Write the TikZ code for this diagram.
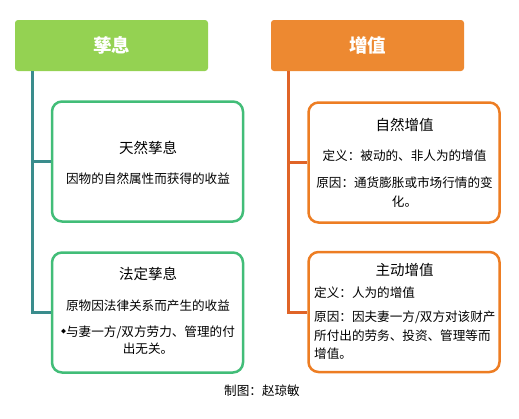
\documentclass[tikz,border=0pt]{standalone}
\usepackage{fontspec}
\setmainfont{Noto Sans CJK SC}
\definecolor{hdrgreen}{RGB}{148,210,82}
\definecolor{hdrorange}{RGB}{237,137,49}
\definecolor{boxgreen}{RGB}{66,189,120}
\definecolor{boxorange}{RGB}{237,125,35}
\definecolor{trunkteal}{RGB}{58,140,140}
\definecolor{trunkorange}{RGB}{224,100,40}
\tikzset{
  hdr/.style={rectangle, rounded corners=3pt, minimum width=193pt, minimum height=51pt, inner sep=0pt, text=white, font=\fontsize{18.5}{20}\selectfont\bfseries},
  card/.style={rectangle, rounded corners=10pt, line width=2.5pt, fill=white, minimum width=191pt, minimum height=120pt, inner sep=0pt},
  ttl/.style={inner sep=0pt, font=\fontsize{14.5}{16}\selectfont},
  body/.style={inner sep=0pt, font=\fontsize{12.6}{14}\selectfont},
  trunk/.style={line width=3pt},
}
\begin{document}
\begin{tikzpicture}[x=1pt,y=-1pt]
\useasboundingbox (0,0) rectangle (519,418);
% headers
\node[hdr, fill=hdrgreen] (h1) at (111.5,45.5) {孳息};
\node[hdr, fill=hdrorange] (h2) at (367.5,45.5) {增值};
% cards
\node[card, draw=boxgreen] (b1) at (147.5,161.5) {};
\node[card, draw=boxgreen] (b2) at (147.5,312.5) {};
\node[card, draw=boxorange] (b3) at (404,162.5) {};
\node[card, draw=boxorange] (b4) at (404,312) {};
% connectors
\coordinate (t1) at ([xshift=18pt]h1.south west);
\coordinate (t2) at ([xshift=18pt]h2.south west);
\draw[trunk, trunkteal] (t1) |- (b2.west);
\draw[trunk, trunkteal] (t1 |- b1.west) -- (b1.west);
\draw[trunk, trunkorange] (t2) |- (b4.west);
\draw[trunk, trunkorange] (t2 |- b3.west) -- (b3.west);
% card 1
\node[ttl] (b1t) at (148,148) {天然孳息};
\node[body] (b1a) at (148,179) {因物的自然属性而获得的收益};
% card 2
\node[ttl] (b2t) at (148,274) {法定孳息};
\node[body] (b2a) at (148,306) {原物因法律关系而产生的收益};
\node[body] (b2b) at (148,332) {\raisebox{0.25em}{\fontsize{5}{6}\selectfont ◆}与妻一方/双方劳力、管理的付};
\node[body] (b2c) at (148,349) {出无关。};
% card 3
\node[ttl] (b3t) at (404.5,125) {自然增值};
\node[body] (b3a) at (404.5,156) {定义：被动的、非人为的增值};
\node[body] (b3b) at (404.5,183) {原因：通货膨胀或市场行情的变};
\node[body] (b3c) at (404.5,202) {化。};
% card 4
\node[ttl] (b4t) at (404.5,270) {主动增值};
\node[body, anchor=west] (b4a) at (314,293) {定义：人为的增值};
\node[body, anchor=west] (b4b) at (314,317) {原因：因夫妻一方/双方对该财产};
\node[body, anchor=west] (b4c) at (314,336) {所付出的劳务、投资、管理等而};
\node[body, anchor=west] (b4d) at (314,354) {增值。};
% caption
\node[body] (cap) at (262,391) {制图：赵琼敏};
\end{tikzpicture}
\end{document}
